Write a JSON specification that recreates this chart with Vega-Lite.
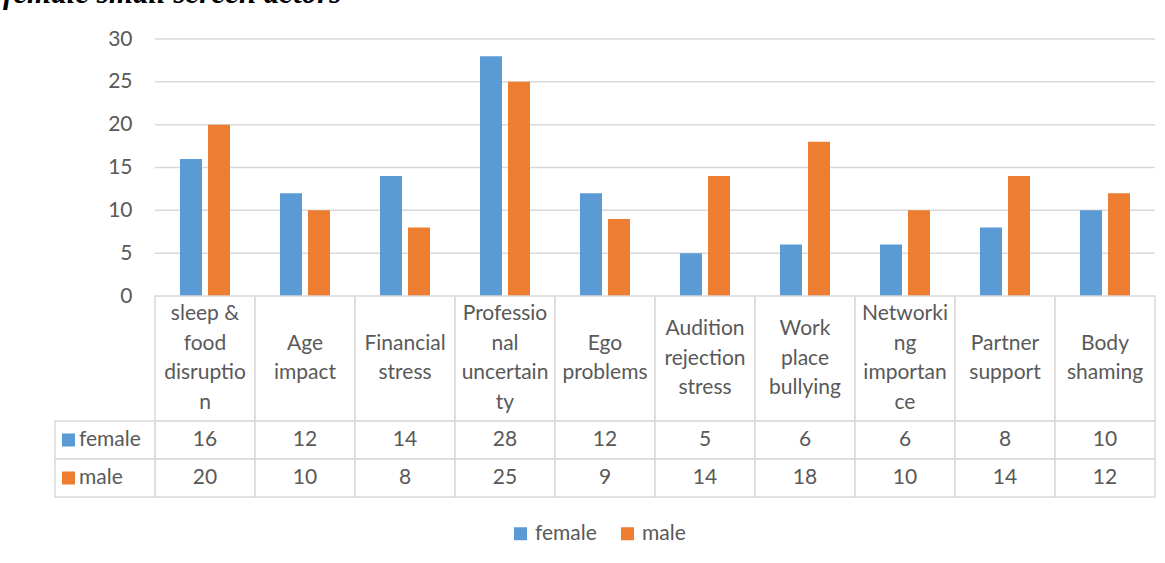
{
  "$schema": "https://vega.github.io/schema/vega-lite/v6.json",
  "autosize": "none",
  "padding": {"left": 55, "top": 39, "right": 1110, "bottom": 524},
  "background": "white",
  "title": {
    "text": "female small screen actors",
    "anchor": "start",
    "frame": "group",
    "font": "Liberation Serif",
    "fontStyle": "italic",
    "fontWeight": "bold",
    "fontSize": 31,
    "color": "#000000",
    "baseline": "alphabetic",
    "offset": -6,
    "dx": -52
  },
  "config": {
    "font": "Lato",
    "view": {"stroke": null},
    "axis": {"labelFont": "Lato"},
    "text": {"font": "Lato"}
  },
  "datasets": {
    "bars": [
      {"category": "sleep & food disruption", "series": "female", "value": 16},
      {"category": "sleep & food disruption", "series": "male", "value": 20},
      {"category": "Age impact", "series": "female", "value": 12},
      {"category": "Age impact", "series": "male", "value": 10},
      {"category": "Financial stress", "series": "female", "value": 14},
      {"category": "Financial stress", "series": "male", "value": 8},
      {"category": "Professional uncertainty", "series": "female", "value": 28},
      {"category": "Professional uncertainty", "series": "male", "value": 25},
      {"category": "Ego problems", "series": "female", "value": 12},
      {"category": "Ego problems", "series": "male", "value": 9},
      {"category": "Audition rejection stress", "series": "female", "value": 5},
      {"category": "Audition rejection stress", "series": "male", "value": 14},
      {"category": "Work place bullying", "series": "female", "value": 6},
      {"category": "Work place bullying", "series": "male", "value": 18},
      {"category": "Networking importance", "series": "female", "value": 6},
      {"category": "Networking importance", "series": "male", "value": 10},
      {"category": "Partner support", "series": "female", "value": 8},
      {"category": "Partner support", "series": "male", "value": 14},
      {"category": "Body shaming", "series": "female", "value": 10},
      {"category": "Body shaming", "series": "male", "value": 12}
    ],
    "cats": [
      {"category": "sleep & food disruption", "label": "sleep &\nfood\ndisruptio\nn"},
      {"category": "Age impact", "label": "Age\nimpact"},
      {"category": "Financial stress", "label": "Financial\nstress"},
      {"category": "Professional uncertainty", "label": "Professio\nnal\nuncertain\nty"},
      {"category": "Ego problems", "label": "Ego\nproblems"},
      {"category": "Audition rejection stress", "label": "Audition\nrejection\nstress"},
      {"category": "Work place bullying", "label": "Work\nplace\nbullying"},
      {"category": "Networking importance", "label": "Networki\nng\nimportan\nce"},
      {"category": "Partner support", "label": "Partner\nsupport"},
      {"category": "Body shaming", "label": "Body\nshaming"}
    ],
    "series": [
      {"series": "female"},
      {"series": "male"}
    ],
    "grid": [
      {"v": 5}, {"v": 10}, {"v": 15}, {"v": 20}, {"v": 25}, {"v": 30}
    ]
  },
  "spacing": 0,
  "bounds": "flush",
  "resolve": {
    "scale": {"x": "independent", "y": "independent", "color": "shared"},
    "legend": {"color": "shared"}
  },
  "vconcat": [
    {
      "width": 1100,
      "height": 257,
      "layer": [
        {
          "data": {"name": "grid"},
          "mark": {"type": "rule", "color": "#d9d9d9", "strokeWidth": 1.5},
          "encoding": {
            "y": {"field": "v", "type": "quantitative", "scale": {"domain": [0, 30], "nice": false},
                  "axis": {"values": [0, 5, 10, 15, 20, 25, 30], "offset": -100, "domain": false, "ticks": false, "grid": false, "title": null, "labelFontSize": 21, "labelColor": "#595959", "labelPadding": 23}},
            "x": {"datum": "sleep & food disruption", "bandPosition": 0, "type": "nominal",
                  "scale": {"domain": ["", "sleep & food disruption", "Age impact", "Financial stress", "Professional uncertainty", "Ego problems", "Audition rejection stress", "Work place bullying", "Networking importance", "Partner support", "Body shaming"], "paddingInner": 0, "paddingOuter": 0},
                  "axis": null},
            "x2": {"datum": "Body shaming", "bandPosition": 1}
          }
        },
        {
          "data": {"name": "bars"},
          "mark": {"type": "bar"},
          "encoding": {
            "x": {"field": "category", "type": "nominal", "sort": null, "axis": null},
            "xOffset": {"field": "series", "type": "nominal", "scale": {"domain": ["female", "male"], "paddingInner": 0.214, "paddingOuter": 0.893}},
            "y": {"field": "value", "type": "quantitative"},
            "color": {"field": "series", "type": "nominal",
                      "scale": {"domain": ["female", "male"], "range": ["#5b9bd5", "#ed7d31"]},
                      "legend": {"orient": "none", "direction": "horizontal", "legendX": 455, "legendY": 484, "title": null, "symbolType": "square", "symbolSize": 169, "symbolStrokeWidth": 0, "labelFontSize": 21, "labelColor": "#595959", "labelOffset": 4, "columnPadding": 20}}
          }
        }
      ]
    },
    {
      "width": 1100,
      "height": 125,
      "data": {"name": "cats"},
      "encoding": {
        "x": {"field": "category", "type": "nominal", "axis": null,
              "scale": {"domain": ["", "sleep & food disruption", "Age impact", "Financial stress", "Professional uncertainty", "Ego problems", "Audition rejection stress", "Work place bullying", "Networking importance", "Partner support", "Body shaming"], "paddingInner": 0, "paddingOuter": 0}}
      },
      "layer": [
        {"mark": {"type": "rect", "fill": "white", "stroke": "#d9d9d9", "strokeWidth": 1.5}},
        {"mark": {"type": "text", "fontSize": 21, "color": "#595959", "lineBreak": "\n", "lineHeight": 29.5, "baseline": "middle", "align": "center",
                  "dy": {"expr": "-(length(split(datum.label, '\\n')) - 1) * 29.5 / 2"}},
         "encoding": {"text": {"field": "label"}}}
      ]
    },
    {
      "width": 1100,
      "height": 76,
      "layer": [
        {
          "data": {"name": "bars"},
          "mark": {"type": "rect", "fill": "white", "stroke": "#d9d9d9", "strokeWidth": 1.5},
          "encoding": {
            "x": {"field": "category", "type": "nominal", "axis": null,
                  "scale": {"domain": ["", "sleep & food disruption", "Age impact", "Financial stress", "Professional uncertainty", "Ego problems", "Audition rejection stress", "Work place bullying", "Networking importance", "Partner support", "Body shaming"], "paddingInner": 0, "paddingOuter": 0}},
            "y": {"field": "series", "type": "nominal", "axis": null, "scale": {"domain": ["female", "male"], "paddingInner": 0, "paddingOuter": 0}}
          }
        },
        {
          "data": {"name": "series"},
          "mark": {"type": "rect", "fill": "white", "stroke": "#d9d9d9", "strokeWidth": 1.5},
          "encoding": {
            "x": {"datum": "", "type": "nominal"},
            "y": {"field": "series", "type": "nominal"}
          }
        },
        {
          "data": {"name": "bars"},
          "mark": {"type": "text", "fontSize": 21, "color": "#595959", "baseline": "middle"},
          "encoding": {
            "x": {"field": "category", "type": "nominal"},
            "y": {"field": "series", "type": "nominal"},
            "text": {"field": "value", "type": "quantitative"}
          }
        },
        {
          "data": {"name": "series"},
          "mark": {"type": "text", "fontSize": 21, "color": "#595959", "baseline": "middle", "align": "left"},
          "encoding": {
            "x": {"datum": "", "type": "nominal", "bandPosition": 0.24},
            "y": {"field": "series", "type": "nominal"},
            "text": {"field": "series"}
          }
        },
        {
          "data": {"name": "series"},
          "mark": {"type": "point", "shape": "square", "filled": true, "opacity": 1, "size": 169, "strokeWidth": 0},
          "encoding": {
            "x": {"datum": "", "type": "nominal", "bandPosition": 0.135},
            "y": {"field": "series", "type": "nominal"},
            "color": {"field": "series", "type": "nominal", "legend": null}
          }
        }
      ]
    }
  ]
}
